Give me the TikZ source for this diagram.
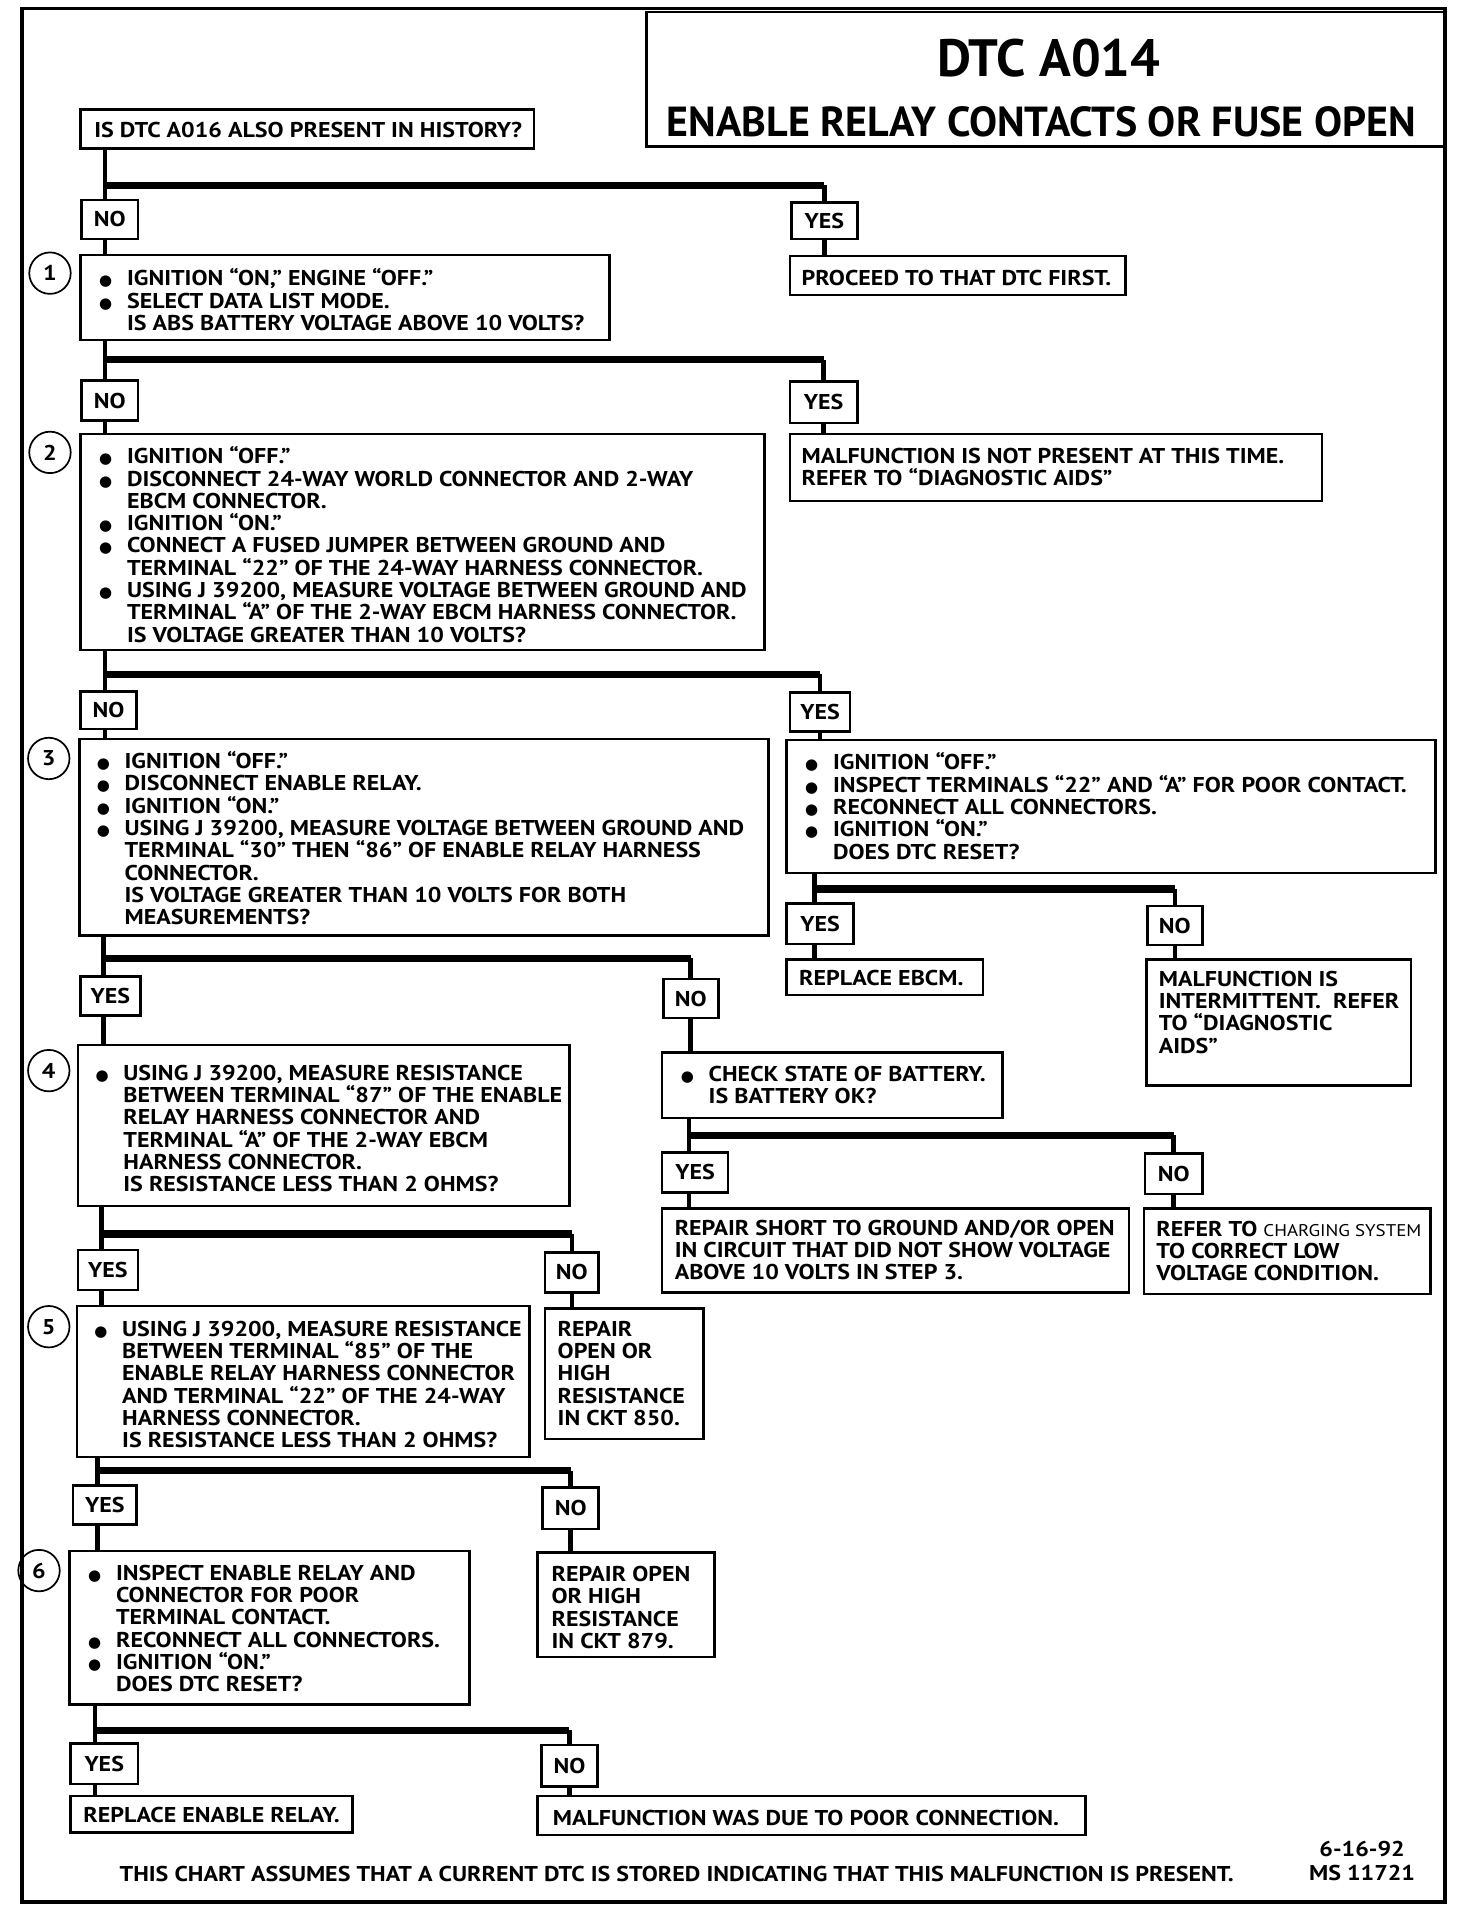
\documentclass[tikz,border=0pt]{standalone}
\usepackage{fontspec}
\setmainfont{PT Sans}[FakeStretch=1.12]
\newfontfamily\ttl{PT Sans}
\newfontfamily\dv{DejaVu Sans}
\usetikzlibrary{fit}
\newcommand\bul{{\dv\fontsize{7}{7}\selectfont ●}}
\newcommand\B{\makebox[13pt][l]{\bul}}
\newcommand\I{\hspace*{13pt}}
\newcommand\bx[5]{\node[bx, fit={(#2,#3) (#4,#5)}] (#1) {};}
\newcommand\lb[6]{\node[bx, minimum width={(#4-#2)*0.02cm}, minimum height={(#5-#3)*0.02cm}, font=\fontsize{10}{10}\selectfont\bfseries] (#1) at ({(#2+#4)/2},{(#3+#5)/2}) {#6};}
\begin{document}
\begin{tikzpicture}[x=0.02cm,y=-0.02cm,
 bx/.style={draw, line width=1.2pt, inner sep=0pt},
 tx/.style={anchor=north west, inner sep=0pt, align=left, font=\fontsize{10}{10.4}\selectfont\bfseries},
 vl/.style={line width=2.2pt},
 bus/.style={line width=3.4pt},
 circ/.style={circle, draw, line width=0.8pt, minimum size=0.68cm, inner sep=0pt, font=\fontsize{10}{10}\selectfont\bfseries},
]
\useasboundingbox (0,0) rectangle (1207,1568);
\draw[line width=1.8pt] (18,7) rectangle (1185,1560);
\bx{title}{530}{10}{1185}{120}
\node[font=\ttl\fontsize{24.5}{24.5}\selectfont\bfseries] (tA) at (860,48) {DTC A014};
\node[font=\ttl\fontsize{19.6}{19.6}\selectfont\bfseries] (tB) at (854,100) {ENABLE RELAY CONTACTS OR FUSE OPEN};

% boxes
\bx{q}{66}{90}{438}{122}
\node[tx] (qt) at (77,100) {IS DTC A016 ALSO PRESENT IN HISTORY?};
\lb{no1}{67}{164}{113}{196}{NO}
\lb{yes1}{649}{166}{703}{196}{YES}
\bx{s1}{66}{209}{500}{279}
\node[circ] (c1) at (41,224) {1};
\node[tx] (s1t) at (81,220) {\B IGNITION “ON,” ENGINE “OFF.”\\ \B SELECT DATA LIST MODE.\\ \I IS ABS BATTERY VOLTAGE ABOVE 10 VOLTS?};
\bx{p1}{648}{210}{923}{242}
\node[tx] (p1t) at (657,221) {PROCEED TO THAT DTC FIRST.};

\lb{no2}{67}{312}{113}{345}{NO}
\lb{yes2}{648}{313}{703}{347}{YES}
\bx{s2}{66}{356}{627}{533}
\node[circ] (c2) at (41,371) {2};
\node[tx] (s2t) at (81,366) {\B IGNITION “OFF.”\\ \B DISCONNECT 24-WAY WORLD CONNECTOR AND 2-WAY\\ \I EBCM CONNECTOR.\\ \B IGNITION “ON.”\\ \B CONNECT A FUSED JUMPER BETWEEN GROUND AND\\ \I TERMINAL “22” OF THE 24-WAY HARNESS CONNECTOR.\\ \B USING J 39200, MEASURE VOLTAGE BETWEEN GROUND AND\\ \I TERMINAL “A” OF THE 2-WAY EBCM HARNESS CONNECTOR.\\ \I IS VOLTAGE GREATER THAN 10 VOLTS?};
\bx{m2}{648}{356}{1084}{411}
\node[tx] (m2t) at (657,367) {MALFUNCTION IS NOT PRESENT AT THIS TIME.\\ REFER TO “DIAGNOSTIC AIDS”};

\lb{no3}{66}{567}{112}{598}{NO}
\lb{yes3}{648}{568}{697}{600}{YES}
\bx{s3}{65}{606}{630}{767}
\node[circ] (c3) at (40,622) {3};
\node[tx] (s3t) at (79,616) {\B IGNITION “OFF.”\\ \B DISCONNECT ENABLE RELAY.\\ \B IGNITION “ON.”\\ \B USING J 39200, MEASURE VOLTAGE BETWEEN GROUND AND\\ \I TERMINAL “30” THEN “86” OF ENABLE RELAY HARNESS\\ \I CONNECTOR.\\ \I IS VOLTAGE GREATER THAN 10 VOLTS FOR BOTH\\ \I MEASUREMENTS?};
\bx{r3}{645}{607}{1177}{716}
\node[tx] (r3t) at (660,617) {\B IGNITION “OFF.”\\ \B INSPECT TERMINALS “22” AND “A” FOR POOR CONTACT.\\ \B RECONNECT ALL CONNECTORS.\\ \B IGNITION “ON.”\\ \I DOES DTC RESET?};

\lb{yesr}{645}{741}{700}{774}{YES}
\lb{nor}{941}{743}{986}{775}{NO}
\bx{ebcm}{645}{787}{806}{816}
\node[tx] (ebcmt) at (655,795) {REPLACE EBCM.};
\bx{inter}{940}{787}{1157}{890}
\node[tx] (intert) at (950,796) {MALFUNCTION IS\\ INTERMITTENT.\ \ REFER\\ TO “DIAGNOSTIC\\ AIDS”};

\lb{yes4}{66}{801}{115}{833}{YES}
\lb{no4}{544}{803}{589}{835}{NO}
\bx{s4}{64}{857}{467}{989}
\node[circ] (c4) at (40,878) {4};
\node[tx] (s4t) at (78,873) {\B USING J 39200, MEASURE RESISTANCE\\ \I BETWEEN TERMINAL “87” OF THE ENABLE\\ \I RELAY HARNESS CONNECTOR AND\\ \I TERMINAL “A” OF THE 2-WAY EBCM\\ \I HARNESS CONNECTOR.\\ \I IS RESISTANCE LESS THAN 2 OHMS?};
\bx{batt}{543}{863}{822}{917}
\node[tx] (battt) at (558,874) {\B CHECK STATE OF BATTERY.\\ \I IS BATTERY OK?};

\lb{yesb}{543}{945}{597}{978}{YES}
\lb{nob}{939}{946}{986}{979}{NO}
\bx{rep}{543}{991}{926}{1060}
\node[tx] (rept) at (553,1000) {REPAIR SHORT TO GROUND AND/OR OPEN\\ IN CIRCUIT THAT DID NOT SHOW VOLTAGE\\ ABOVE 10 VOLTS IN STEP 3.};
\bx{ref}{938}{991}{1173}{1061}
\node[tx] (reft) at (948,1001) {REFER TO {\fontsize{7.9}{7.9}\selectfont\mdseries CHARGING SYSTEM}\\ TO CORRECT LOW\\ VOLTAGE CONDITION.};

\lb{yes5}{64}{1025}{113}{1058}{YES}
\lb{no5}{447}{1027}{491}{1060}{NO}
\bx{s5}{63}{1071}{434}{1195}
\node[circ] (c5) at (40,1088) {5};
\node[tx] (s5t) at (77,1083) {\B USING J 39200, MEASURE RESISTANCE\\ \I BETWEEN TERMINAL “85” OF THE\\ \I ENABLE RELAY HARNESS CONNECTOR\\ \I AND TERMINAL “22” OF THE 24-WAY\\ \I HARNESS CONNECTOR.\\ \I IS RESISTANCE LESS THAN 2 OHMS?};
\bx{r850}{447}{1073}{577}{1180}
\node[tx] (r850t) at (457,1083) {REPAIR\\ OPEN OR\\ HIGH\\ RESISTANCE\\ IN CKT 850.};

\lb{yes6}{60}{1218}{112}{1250}{YES}
\lb{no6}{445}{1220}{491}{1254}{NO}
\bx{s6}{57}{1272}{385}{1398}
\node[circ] (c6) at (32,1288) {6};
\node[tx] (s6t) at (72,1283) {\B INSPECT ENABLE RELAY AND\\ \I CONNECTOR FOR POOR\\ \I TERMINAL CONTACT.\\ \B RECONNECT ALL CONNECTORS.\\ \B IGNITION “ON.”\\ \I DOES DTC RESET?};
\bx{r879}{441}{1273}{586}{1359}
\node[tx] (r879t) at (452,1284) {REPAIR OPEN\\ OR HIGH\\ RESISTANCE\\ IN CKT 879.};

\lb{yes7}{58}{1430}{113}{1463}{YES}
\lb{no7}{444}{1431}{490}{1465}{NO}
\bx{rel}{58}{1473}{289}{1503}
\node[tx] (relt) at (68,1482) {REPLACE ENABLE RELAY.};
\bx{mal}{441}{1473}{890}{1505}
\node[tx] (malt) at (453,1484) {MALFUNCTION WAS DUE TO POOR CONNECTION.};

\node[font=\fontsize{10}{10}\selectfont\bfseries] (foot) at (555,1537) {THIS CHART ASSUMES THAT A CURRENT DTC IS STORED INDICATING THAT THIS MALFUNCTION IS PRESENT.};
\node[font=\fontsize{10}{10}\selectfont\bfseries] (date) at (1117,1516) {6-16-92};
\node[font=\fontsize{10}{10}\selectfont\bfseries] (ms) at (1117,1536) {MS 11721};

% connectors
\coordinate (b1) at (86,152);
\draw[vl] (q.south -| b1) -- (no1.north -| b1);
\draw[bus] (b1) -- (b1 -| yes1);
\draw[vl] (b1 -| yes1) -- (yes1.north);
\draw[vl] (no1.south -| b1) -- (s1.north -| b1);
\draw[vl] (yes1.south) -- (p1.north -| yes1);

\coordinate (b2) at (86,295);
\draw[vl] (s1.south -| b2) -- (no2.north -| b2);
\draw[bus] (b2) -- (b2 -| yes2);
\draw[vl] (b2 -| yes2) -- (yes2.north);
\draw[vl] (no2.south -| b2) -- (s2.north -| b2);
\draw[vl] (yes2.south) -- (m2.north -| yes2);

\coordinate (b3) at (86,553);
\draw[vl] (s2.south -| b3) -- (no3.north -| b3);
\draw[bus] (b3) -- (b3 -| yes3);
\draw[vl] (b3 -| yes3) -- (yes3.north);
\draw[vl] (no3.south -| b3) -- (s3.north -| b3);
\draw[vl] (yes3.south) -- (r3.north -| yes3);

\coordinate (br) at (668,729);
\draw[vl] (r3.south -| br) -- (yesr.north -| br);
\draw[bus] (br) -- (br -| nor);
\draw[vl] (br -| nor) -- (nor.north);
\draw[vl] (yesr.south -| br) -- (ebcm.north -| br);
\draw[vl] (nor.south) -- (inter.north -| nor);

\coordinate (b4) at (85,786);
\draw[vl] (s3.south -| b4) -- (yes4.north -| b4);
\draw[bus] (b4) -- (b4 -| no4);
\draw[vl] (b4 -| no4) -- (no4.north);
\draw[vl] (yes4.south -| b4) -- (s4.north -| b4);
\draw[vl] (no4.south) -- (batt.north -| no4);

\coordinate (bb) at (565,931);
\draw[vl] (batt.south -| bb) -- (yesb.north -| bb);
\draw[bus] (bb) -- (bb -| nob);
\draw[vl] (bb -| nob) -- (nob.north);
\draw[vl] (yesb.south -| bb) -- (rep.north -| bb);
\draw[vl] (nob.south) -- (ref.north -| nob);

\coordinate (b5) at (83,1012);
\draw[vl] (s4.south -| b5) -- (yes5.north -| b5);
\draw[bus] (b5) -- (b5 -| no5);
\draw[vl] (b5 -| no5) -- (no5.north);
\draw[vl] (yes5.south -| b5) -- (s5.north -| b5);
\draw[vl] (no5.south) -- (r850.north -| no5);

\coordinate (b6) at (80,1206);
\draw[vl] (s5.south -| b6) -- (yes6.north -| b6);
\draw[bus] (b6) -- (b6 -| no6);
\draw[vl] (b6 -| no6) -- (no6.north);
\draw[vl] (yes6.south -| b6) -- (s6.north -| b6);
\draw[vl] (no6.south) -- (r879.north -| no6);

\coordinate (b7) at (78,1419);
\draw[vl] (s6.south -| b7) -- (yes7.north -| b7);
\draw[bus] (b7) -- (b7 -| no7);
\draw[vl] (b7 -| no7) -- (no7.north);
\draw[vl] (yes7.south -| b7) -- (rel.north -| b7);
\draw[vl] (no7.south) -- (mal.north -| no7);
\end{tikzpicture}
\end{document}
